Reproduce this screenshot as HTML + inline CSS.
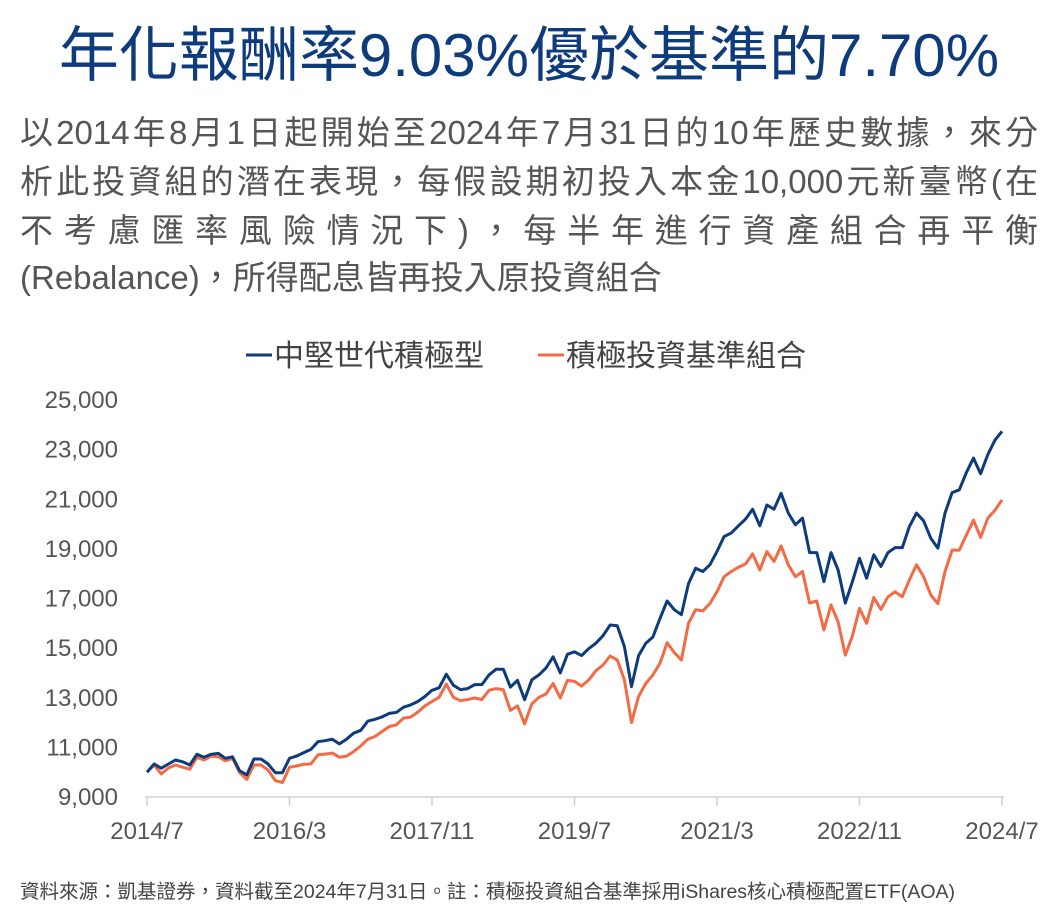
<!DOCTYPE html>
<html><head><meta charset="utf-8">
<style>
html,body{margin:0;padding:0;background:#fff;}
body{width:1058px;height:907px;position:relative;overflow:hidden;font-family:"Liberation Sans","Noto Sans CJK TC",sans-serif;}
#title{position:absolute;left:0;top:20px;width:1058px;text-align:center;font-size:60px;line-height:72px;color:#0d3b7c;white-space:nowrap;}
.pl{position:absolute;left:20px;width:1018px;font-size:33px;line-height:40px;color:#555;white-space:nowrap;text-align:justify;text-align-last:justify;}
#foot{position:absolute;left:20px;top:875px;font-size:19.5px;color:#444;white-space:nowrap;}
svg{position:absolute;left:0;top:0;}
</style></head>
<body>
<div id="title">年化報酬率9.03%優於基準的7.70%</div>
<div class="pl" style="top:113px">以2014年8月1日起開始至2024年7月31日的10年歷史數據，來分</div>
<div class="pl" style="top:162px">析此投資組的潛在表現，每假設期初投入本金10,000元新臺幣(在</div>
<div class="pl" style="top:211px">不考慮匯率風險情況下)，每半年進行資產組合再平衡</div>
<div class="pl" style="top:258px;text-align:left;text-align-last:left">(Rebalance)，所得配息皆再投入原投資組合</div>
<svg id="chart" width="1058" height="907"></svg>
<div id="foot">資料來源：凱基證券，資料截至2024年7月31日。註：積極投資組合基準採用iShares核心積極配置ETF(AOA)</div>
<script>
const xTickLabels=["2014/7","2016/3","2017/11","2019/7","2021/3","2022/11","2024/7"];
const yTicks=[9000,11000,13000,15000,17000,19000,21000,23000,25000];
const seriesNames=["中堅世代積極型","積極投資基準組合"];
const portfolio=[10.0,10.33,10.16,10.33,10.49,10.42,10.29,10.72,10.6,10.72,10.76,10.56,10.62,10.06,9.89,10.53,10.53,10.33,9.98,9.98,10.56,10.65,10.79,10.92,11.23,11.27,11.33,11.14,11.33,11.57,11.69,12.06,12.13,12.23,12.37,12.41,12.62,12.71,12.85,13.05,
13.3,13.4,13.95,13.5,13.33,13.37,13.53,13.53,13.92,14.15,14.15,13.43,13.7,
12.92,13.72,13.92,14.2,14.65,14.0,14.75,14.85,14.7,14.98,15.2,15.5,15.93,15.9,15.06,13.45,14.7,15.2,15.45,16.2,16.9,16.55,16.35,17.6,
18.22,18.09,18.36,18.9,19.5,19.64,19.93,20.2,20.6,19.93,20.77,20.6,21.24,20.44,19.97,20.24,18.85,18.85,17.68,18.85,18.15,16.81,17.68,18.62,17.82,18.76,18.29,18.85,19.05,19.05,19.9,20.44,20.13,19.43,19.03,20.44,21.27,21.38,22.08,22.66,22.03,22.8,23.38,23.74];
const benchmark=[10.0,10.29,9.93,10.17,10.29,10.2,10.12,10.6,10.49,10.65,10.62,10.46,10.56,9.98,9.71,10.29,10.29,10.09,9.66,9.58,10.2,10.25,10.32,10.33,10.7,10.73,10.77,10.6,10.65,10.83,11.06,11.33,11.44,11.64,11.84,11.91,12.18,12.22,12.42,12.67,
12.85,13.02,13.55,13.02,12.88,12.93,12.99,12.93,13.3,13.37,13.33,12.49,12.67,
11.95,12.75,13.02,13.15,13.58,12.99,13.7,13.66,13.47,13.72,14.09,14.32,14.68,14.52,13.72,12.0,13.05,13.58,13.92,14.39,15.22,14.82,14.52,16.0,
16.55,16.5,16.8,17.27,17.88,18.09,18.26,18.39,18.8,18.15,18.89,18.49,19.12,18.36,17.88,18.09,16.82,16.9,15.73,16.74,16.06,14.72,15.49,16.6,16.0,17.04,16.56,17.07,17.27,17.07,17.75,18.36,17.88,17.14,16.79,18.09,18.95,18.95,19.56,20.16,19.46,20.24,20.55,20.97];

const NS="http://www.w3.org/2000/svg";
const svg=document.getElementById('chart');
const X0=147,X1=1002,Y0=797,Y1=400,MONTHS=120,VMIN=9000,VMAX=25000;
const xs=i=>X0+(X1-X0)*i/MONTHS;
const ys=v=>Y0-(Y0-Y1)*(v-VMIN)/(VMAX-VMIN);
function mk(tag,attrs){const e=document.createElementNS(NS,tag);for(const k in attrs)e.setAttribute(k,attrs[k]);svg.appendChild(e);return e;}
yTicks.forEach(v=>{
  const t=mk('text',{x:118,y:ys(v)+8,'text-anchor':'end','font-size':24,fill:'#555','font-family':'Liberation Sans, sans-serif'});
  
  
  t.textContent=v.toLocaleString('en-US');
});
const ax=mk('line',{x1:X0-2,y1:Y0,x2:X1+2,y2:Y0,stroke:'#d0d0d0','stroke-width':1.5});


xTickLabels.forEach((lab,k)=>{
  const x=xs(k*20);
  const tk=mk('line',{x1:x,y1:Y0,x2:x,y2:Y0+9,stroke:'#d0d0d0','stroke-width':1.5});
  
  
  const t=mk('text',{x:x,y:839,'text-anchor':'middle','font-size':24,fill:'#555','font-family':'Liberation Sans, sans-serif'});
  
  
  t.textContent=lab;
});
function drawLine(arr,color,name){
  const pts=arr.map((v,i)=>xs(i).toFixed(1)+','+ys(v*1000).toFixed(1)).join(' ');
  const p=mk('polyline',{points:pts,fill:'none',stroke:color,'stroke-width':3,'stroke-linejoin':'round'});
  
  
}
drawLine(benchmark,'#f26b45','benchmark-line');
drawLine(portfolio,'#0d3b7c','portfolio-line');
const leg=[[246,'#0d3b7c',seriesNames[0]],[538,'#f26b45',seriesNames[1]]];
leg.forEach(([x,c,n])=>{
  const l=mk('line',{x1:x,y1:355,x2:x+26,y2:355,stroke:c,'stroke-width':3});
  
  
  const t=mk('text',{x:x+28,y:366,'font-size':30,fill:'#444','font-family':'Liberation Sans, Noto Sans CJK TC, sans-serif'});
  
  
  t.textContent=n;
});
</script>
</body></html>
